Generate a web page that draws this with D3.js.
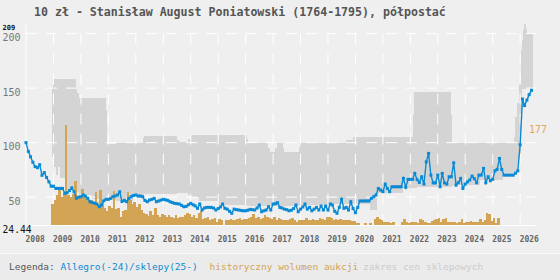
<!DOCTYPE html>
<html>
<head>
<meta charset="utf-8">
<script src="https://cdn.jsdelivr.net/npm/d3@7"></script>
<style>
  body { margin: 0; background: #efefef; }
  svg { display: block; }
</style>
</head>
<body>
<div id="chart"></div>
<script>
const width = 560;
const height = 280;
const left = 26, right = 536, bottom = 225;

// axis data
const years = d3.range(2008, 2027);
const yTicks = [50, 100, 150, 200];
const yMin = 24.44, yMax = 209;
const volMax = 177;

// Allegro/shop price, monthly from Jan 2008
const price2008 = [100, 92, 87, 82, 78, 77, 79.7, 70, 72.5, 68, 64, 60];
const price2009 = [60, 58, 58, 58, 58, 53.5, 54, 56, 58.5, 55, 49, 50];
const price2010 = [50.4, 52, 51, 49, 45.8, 45, 44.5, 43.7, 41.2, 42.8, 46.7, 48];
const price2011 = [48, 48.9, 50.4, 51, 52, 54.9, 46, 47, 45.8, 48.9, 50.4, 51.5];
const price2012 = [52, 51, 51, 50.4, 47, 45.8, 47.3, 48, 48.9, 45.8, 46.5, 47.3];
const price2013 = [48, 47.5, 47, 45.8, 45, 44.3, 44, 43.7, 42.5, 41.2, 41.5, 43];
const price2014 = [44.3, 43, 42, 39.7, 43.7, 38.2, 40, 40.6, 40.6, 40.6, 40, 38.2];
const price2015 = [39.5, 41, 43.7, 39.7, 39, 37, 35.2, 39, 38.5, 38.2, 37.8, 37.5];
const price2016 = [37.5, 38, 38.8, 38.5, 38.2, 40, 42.8, 36.6, 37.5, 38.2, 41.2, 38.2];
const price2017 = [43.7, 44, 44.9, 40.6, 40, 39, 38.5, 37.5, 38, 39.5, 42.8, 36.6];
const price2018 = [39, 41, 43.7, 39, 40.6, 37.5, 39, 40.6, 38.2, 41.8, 38.2, 41.8];
const price2019 = [38.2, 43.7, 42.8, 37, 35.2, 40.6, 48, 39.7, 40.6, 38.2, 45.8, 39.5];
const price2020 = [35.7, 40.6, 46.5, 46.5, 46.5, 46.5, 46.5, 48.9, 50.4, 52, 58, 56.5];
const price2021 = [55, 62, 58, 55, 59.5, 59.5, 59.5, 59.5, 59.5, 67.2, 59, 66.3];
const price2022 = [66.3, 66.3, 71.8, 66, 63.5, 68.7, 62, 82.4, 90.1, 70.2, 63, 63];
const price2023 = [70.2, 59.5, 71.8, 63, 62, 68.7, 68.7, 81.5, 61, 63.2, 67.2, 58];
const price2024 = [62, 64, 65.7, 69.3, 67, 63.2, 70.2, 70.2, 76.4, 63.2, 68.7, 65];
const price2025 = [66.3, 74.2, 75.4, 85.5, 75.4, 70.2, 70.2, 70.2, 70.2, 70.2, 72, 74.2];
const price2026 = [98, 140, 134, 139, 144, 148];

// auction volume, monthly
const vol2008 = [0, 0, 0, 0, 0, 0, 0, 0, 0, 0, 0, 37];
const vol2009 = [45, 53, 62, 50, 56, 177, 53, 50, 55, 78, 47, 52];
const vol2010 = [63, 50, 47, 44, 45, 40, 59, 38, 62, 45, 30, 24];
const vol2011 = [34, 30, 61, 28, 30, 14, 24, 27, 59, 44, 38, 41];
const vol2012 = [32, 38, 27, 22, 20, 16, 24, 18, 30, 17, 14, 20];
const vol2013 = [18, 14, 17, 15, 13, 17, 12, 15, 14, 17, 22, 20];
const vol2014 = [14, 18, 12, 22, 24, 10, 12, 14, 8, 10, 12, 6];
const vol2015 = [10, 8, 0, 8, 9, 10, 8, 9, 10, 12, 8, 10];
const vol2016 = [10, 12, 15, 20, 12, 14, 10, 12, 18, 15, 12, 10];
const vol2017 = [14, 8, 12, 10, 9, 8, 8, 11, 12, 8, 6, 9];
const vol2018 = [8, 9, 12, 9, 8, 10, 9, 8, 12, 10, 8, 15];
const vol2019 = [15, 12, 8, 10, 9, 10, 8, 9, 8, 8, 7, 7];
const vol2020 = [4, 4, 0, 0, 4, 0, 4, 0, 10, 14, 10, 8];
const vol2021 = [6, 5, 6, 4, 5, 0, 0, 0, 6, 10, 6, 4];
const vol2022 = [5, 5, 5, 4, 10, 8, 5, 4, 4, 7, 8, 10];
const vol2023 = [12, 6, 10, 12, 6, 5, 5, 5, 4, 6, 10, 4];
const vol2024 = [5, 6, 7, 6, 5, 6, 10, 6, 8, 21, 20, 7];
const vol2025 = [12, 4, 12];

// shop price range (step changes)
const bandDates = ["2008-12-16", "2008-12-22", "2009-01-10", "2009-02-01", "2009-03-01", "2009-04-01",
  "2009-07-01", "2009-10-27", "2009-11-14", "2009-12-06", "2010-06-01", "2010-11-30", "2010-12-10",
  "2010-12-20", "2011-04-12", "2011-12-01", "2012-04-04", "2012-04-15", "2013-06-28", "2013-08-01",
  "2013-11-24", "2013-12-28", "2014-04-15", "2015-01-01", "2016-01-15", "2016-02-05", "2016-10-26",
  "2016-11-15", "2017-01-20", "2017-02-21", "2017-05-12", "2017-05-25", "2017-12-10", "2017-12-25",
  "2019-01-01", "2019-09-01", "2019-11-28", "2020-07-12", "2020-10-12", "2021-09-25", "2022-02-01",
  "2022-02-20", "2022-03-25", "2023-06-24", "2023-07-15", "2023-07-26", "2024-07-15", "2025-05-22",
  "2025-10-12", "2025-10-25", "2025-11-25", "2025-12-20", "2026-01-08", "2026-01-22", "2026-02-12",
  "2026-02-24", "2026-03-14", "2026-03-28", "2026-06-18"];
const bandLow = [87, 87, 78, 70, 78, 68, 57, 57, 55, 52, 48, 48, 48, 47, 46, 50, 52, 53, 54, 54,
  52, 50, 46, 43, 42, 42, 42, 42, 42, 42, 42, 42, 43, 43, 44, 44, 44, 38.2, 53.5, 58.5, 58.5,
  58.5, 59.5, 59.5, 60, 61, 65.6, 71.8, 71.8, 74, 80, 90, 120, 149.6, 149.6, 149.6, 149.6, 149.6, 149.6];
const bandHigh = [151, 158.8, 158.8, 158.8, 158.8, 158.8, 158.8, 151, 145.6, 140.5, 140.5, 129.7, 110,
  98.6, 99.8, 99.8, 103.8, 105.9, 102.5, 100.7, 103, 106.9, 106.9, 106.9, 103, 99.8, 95,
  91.6, 95, 99.8, 95, 91.6, 95, 99.8, 99.8, 102, 105.3, 105.3, 105.3, 105.3, 125,
  146.5, 146.5, 125, 99.8, 99.8, 99.5, 99.5, 105, 123.6, 136, 154, 184.7, 194, 203,
  208.5, 204.6, 200, 200];

// build series
const priceYears = [price2008, price2009, price2010, price2011, price2012, price2013, price2014,
  price2015, price2016, price2017, price2018, price2019, price2020, price2021, price2022,
  price2023, price2024, price2025, price2026];
const volYears = [vol2008, vol2009, vol2010, vol2011, vol2012, vol2013, vol2014, vol2015, vol2016,
  vol2017, vol2018, vol2019, vol2020, vol2021, vol2022, vol2023, vol2024, vol2025];

const prices = priceYears.flatMap((arr, yi) => arr.map((v, m) => ({date: new Date(2008 + yi, m, 1), value: v})));
const volumes = volYears.flatMap((arr, yi) => arr.map((v, m) => ({date: new Date(2008 + yi, m, 1), value: v})))
                        .filter(d => d.value > 0);
const parseDate = d3.timeParse("%Y-%m-%d");
const band = bandDates.map((d, i) => ({date: parseDate(d), low: bandLow[i], high: bandHigh[i]}));

const svg = d3.select("#chart")
              .append("svg")
              .attr("width", width)
              .attr("height", height)
              .style("background-color", "#efefef");

const xScale = d3.scaleTime()
                 .domain([new Date(2008, 0, 1), new Date(2026, 6, 31)])
                 .range([left, right]);
const yScale = d3.scaleLinear()
                 .domain([yMin, yMax])
                 .range([bottom, 23.8]);
const volScale = d3.scaleLinear()
                   .domain([0, volMax])
                   .range([bottom, 125]);

// shop price range
svg.append("path")
   .datum(band)
   .attr("fill", "#d4d4d4")
   .attr("shape-rendering", "crispEdges")
   .attr("d", d3.area()
                .x(d => xScale(d.date))
                .y0(d => yScale(d.low))
                .y1(d => yScale(d.high))
                .curve(d3.curveStepAfter));

// grid
svg.append("g")
   .selectAll("line")
   .data(yTicks)
   .enter()
   .append("line")
   .attr("x1", left)
   .attr("x2", right)
   .attr("y1", d => yScale(d))
   .attr("y2", d => yScale(d))
   .attr("stroke", "#fff")
   .attr("stroke-dasharray", "11,9");
svg.append("g")
   .selectAll("line")
   .data(years.slice(1))
   .enter()
   .append("line")
   .attr("x1", d => xScale(new Date(d, 0, 1)))
   .attr("x2", d => xScale(new Date(d, 0, 1)))
   .attr("y1", yScale(200))
   .attr("y2", bottom)
   .attr("stroke", "#fff")
   .attr("stroke-dasharray", "11,9");

// volume bars
svg.append("g")
   .attr("shape-rendering", "crispEdges")
   .selectAll("rect")
   .data(volumes)
   .enter()
   .append("rect")
   .attr("x", d => xScale(d.date))
   .attr("width", d => xScale(d3.timeMonth.offset(d.date, 1)) - xScale(d.date) + 0.3)
   .attr("y", d => volScale(d.value))
   .attr("height", d => bottom - volScale(d.value))
   .attr("fill", "#d4a455");

// axes lines
svg.append("line")
   .attr("x1", left).attr("x2", left)
   .attr("y1", 24).attr("y2", bottom)
   .attr("stroke", "#fff");
svg.append("line")
   .attr("x1", left).attr("x2", right)
   .attr("y1", bottom + 0.5).attr("y2", bottom + 0.5)
   .attr("stroke", "#fff");

// price line
svg.append("path")
   .datum(prices)
   .attr("fill", "none")
   .attr("stroke", "#0a8ad4")
   .attr("stroke-width", 1.4)
   .attr("d", d3.line()
                .x(d => xScale(d.date))
                .y(d => yScale(d.value)));
svg.append("g")
   .selectAll("rect")
   .data(prices)
   .enter()
   .append("rect")
   .attr("x", d => xScale(d.date) - 1.5)
   .attr("y", d => yScale(d.value) - 1.5)
   .attr("width", 3)
   .attr("height", 3)
   .attr("fill", "#0a8ad4");

// x axis labels
const xAxis = d3.axisBottom(xScale)
                .tickValues(years.map(y => new Date(y, 0, 1)))
                .tickFormat(d3.timeFormat("%Y"))
                .tickSize(0);
svg.append("g")
   .attr("transform", "translate(0," + bottom + ")")
   .call(xAxis)
   .call(g => g.select(".domain").remove())
   .selectAll("text")
   .attr("text-anchor", "start")
   .attr("dx", -1)
   .attr("y", 17)
   .attr("dy", 0)
   .attr("fill", "#666")
   .style("font-family", "DejaVu Sans Mono, monospace")
   .style("font-weight", "bold")
   .style("font-size", "8px");

// y labels
svg.append("g")
   .selectAll("text")
   .data(yTicks)
   .enter()
   .append("text")
   .attr("x", 20.5)
   .attr("y", d => d === 200 ? yScale(d) + 7 : yScale(d) + 7.6)
   .attr("text-anchor", "end")
   .attr("fill", "#777")
   .style("font-family", "DejaVu Sans Mono, monospace")
   .style("font-size", "10px")
   .text(d => d);
svg.append("text")
   .attr("x", 2.5)
   .attr("y", 29.5)
   .attr("fill", "#111")
   .style("font-family", "DejaVu Sans Mono, monospace")
   .style("font-weight", "bold")
   .style("font-size", "7px")
   .text(yMax);
svg.append("text")
   .attr("x", 2.5)
   .attr("y", 233)
   .attr("fill", "#111")
   .style("font-family", "DejaVu Sans Mono, monospace")
   .style("font-size", "9.7px")
   .text(yMin);
svg.append("text")
   .attr("x", 529)
   .attr("y", volScale(volMax) + 8)
   .attr("fill", "#e0a758")
   .style("font-family", "DejaVu Sans Mono, monospace")
   .style("font-size", "10px")
   .text(volMax);

// title
svg.append("text")
   .attr("x", 34)
   .attr("y", 15.5)
   .attr("fill", "#555")
   .style("font-family", "DejaVu Sans Mono, monospace")
   .style("font-weight", "bold")
   .style("font-size", "11.6px")
   .text("10 zł - Stanisław August Poniatowski (1764-1795), półpostać");

// legend
svg.append("rect")
   .attr("x", 0).attr("y", 253.5)
   .attr("width", width).attr("height", height - 253.5)
   .attr("fill", "#ebebeb");
svg.append("line")
   .attr("x1", 0).attr("x2", width)
   .attr("y1", 253.5).attr("y2", 253.5)
   .attr("stroke", "#f9f9f9");
const legend = svg.append("text")
   .attr("x", 9)
   .attr("y", 270)
   .style("font-family", "DejaVu Sans Mono, monospace")
   .style("font-size", "9.5px")
   .attr("xml:space", "preserve");
legend.append("tspan").attr("fill", "#555").text("Legenda: ");
legend.append("tspan").attr("fill", "#0a8ad4").text("Allegro(-24)/sklepy(25-)");
legend.append("tspan").attr("x", 209.5).attr("fill", "#d4a455").text("historyczny wolumen aukcji");
legend.append("tspan").attr("x", 363).attr("fill", "#cccccc").text("zakres cen sklepowych");
</script>
</body>
</html>
